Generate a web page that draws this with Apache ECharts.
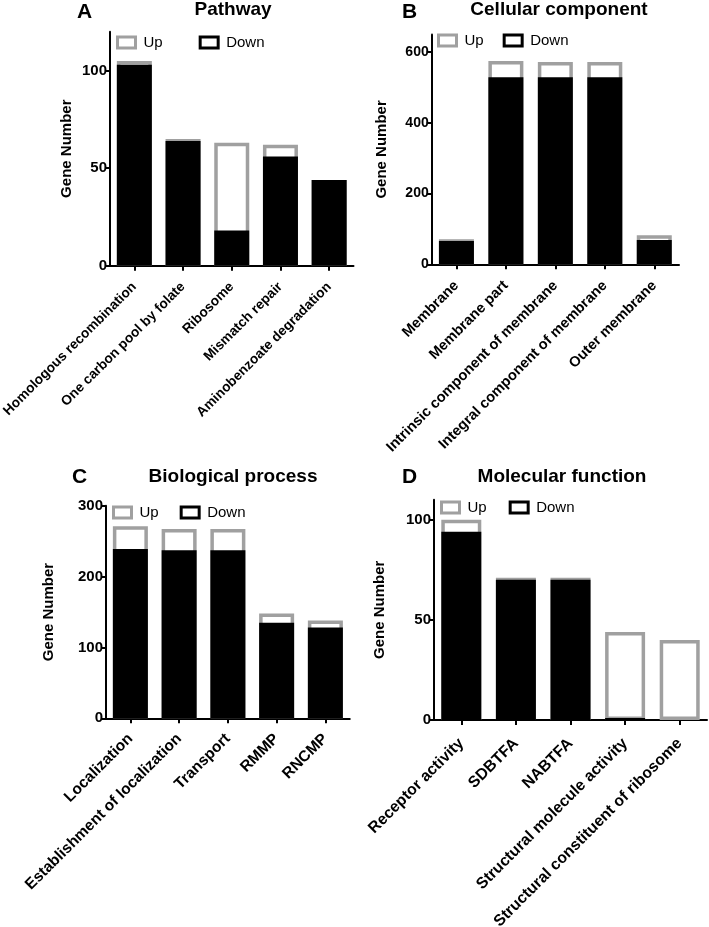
<!DOCTYPE html>
<html>
<head>
<meta charset="utf-8">
<script src="https://cdn.jsdelivr.net/npm/echarts@6/dist/echarts.min.js"></script>
<style>html,body{margin:0;padding:0;background:#fff;}#c{width:709px;height:927px;}</style>
</head>
<body>
<div id="c"></div>
<script>
// ---- Data ----
const pathwayCats = ['Homologous recombination', 'One carbon pool by folate', 'Ribosome', 'Mismatch repair', 'Aminobenzoate degradation'];
const pathwayDown = [103, 64, 18, 56, 44];
const pathwayUp = [2, 1, 45, 6, 0];
const pathwayTicks = [0, 50, 100];

const ccCats = ['Membrane', 'Membrane part', 'Intrinsic component of membrane', 'Integral component of membrane', 'Outer membrane'];
const ccDown = [66, 529, 529, 529, 69];
const ccUp = [5, 46, 43, 43, 13];
const ccTicks = [0, 200, 400, 600];

const bpCats = ['Localization', 'Establishment of localization', 'Transport', 'RMMP', 'RNCMP'];
const bpDown = [239, 237, 237, 135, 128];
const bpUp = [32, 30, 30, 13, 10];
const bpTicks = [0, 100, 200, 300];

const mfCats = ['Receptor activity', 'SDBTFA', 'NABTFA', 'Structural molecule activity', 'Structural constituent of ribosome'];
const mfDown = [94, 70, 70, 1, 0];
const mfUp = [6, 1, 1, 43, 40];
const mfTicks = [0, 50, 100];

const panelLetters = ['A', 'B', 'C', 'D'];
const panelTitles = ['Pathway', 'Cellular component', 'Biological process', 'Molecular function'];

// ---- Layout ----
const FONT = '"Liberation Sans", Arial, Helvetica, sans-serif';
const GREY = '#a0a0a0';
const panels = [
  {cats: pathwayCats, down: pathwayDown, up: pathwayUp, ticks: pathwayTicks, max: 120, interval: 50,
   grid: {left: 110, top: 31.7, width: 243.5, height: 234}, barW: 35, nameGap: 36, tickFont: 15,
   xFont: 13.7, xMargin: 19,
   letter: [77, 2], title: [233, 0], legend: {left: 116, top: 35, gap: 36}},
  {cats: ccCats, down: ccDown, up: ccUp, ticks: ccTicks, max: 650, interval: 200,
   grid: {left: 431.7, top: 34.5, width: 247.3, height: 229.8}, barW: 35, nameGap: 42, tickFont: 14,
   xFont: 14.6, xMargin: 19,
   letter: [402, 2], title: [559, 0], legend: {left: 437, top: 33, gap: 19}},
  {cats: bpCats, down: bpDown, up: bpUp, ticks: bpTicks, max: 300, interval: 100,
   grid: {left: 106, top: 505.7, width: 243.75, height: 212.6}, barW: 35, nameGap: 50, tickFont: 15,
   xFont: 15.5, xMargin: 18,
   letter: [72, 467], title: [233, 467], legend: {left: 112, top: 505, gap: 21}},
  {cats: mfCats, down: mfDown, up: mfUp, ticks: mfTicks, max: 110, interval: 50,
   grid: {left: 434, top: 499.7, width: 273, height: 220.3}, barW: 40, nameGap: 47, tickFont: 15,
   xFont: 15.8, xMargin: 21,
   letter: [402, 467], title: [562, 467], legend: {left: 440, top: 500, gap: 22}}
];

const option = {
  animation: false,
  backgroundColor: '#fff',
  textStyle: {fontFamily: FONT},
  title: [], legend: [], grid: [], xAxis: [], yAxis: [], series: []
};

panels.forEach((p, i) => {
  option.title.push({
    text: panelLetters[i], left: p.letter[0], top: p.letter[1], padding: 0,
    textStyle: {fontSize: 21, fontWeight: 'bold', color: '#000', fontFamily: FONT}
  });
  option.title.push({
    text: panelTitles[i], left: p.title[0], top: p.title[1], padding: 0, textAlign: 'center',
    textStyle: {fontSize: 19, fontWeight: 'bold', color: '#000', fontFamily: FONT}
  });
  option.legend.push({
    left: p.legend.left, top: p.legend.top, orient: 'horizontal', padding: 0,
    itemWidth: 18, itemHeight: 11, itemGap: p.legend.gap, selectedMode: false,
    textStyle: {fontSize: 15, color: '#000', fontFamily: FONT, padding: [0, 0, 0, 3]},
    data: [
      {name: 'Up', icon: 'rect', itemStyle: {color: '#fff', borderColor: GREY, borderWidth: 3}},
      {name: 'Down', icon: 'rect', itemStyle: {color: '#fff', borderColor: '#000', borderWidth: 3}}
    ]
  });
  option.grid.push(Object.assign({containLabel: false, outerBoundsMode: 'none'}, p.grid));
  option.xAxis.push({
    type: 'category', gridIndex: i, data: p.cats,
    axisLine: {show: true, lineStyle: {color: '#000', width: 2}},
    axisTick: {show: true, alignWithLabel: true, length: 5, lineStyle: {color: '#000', width: 2}},
    axisLabel: {interval: 0, rotate: 45, margin: p.xMargin, fontSize: p.xFont, fontWeight: 'bold', color: '#000', fontFamily: FONT},
    splitLine: {show: false}
  });
  option.yAxis.push({
    type: 'value', gridIndex: i, min: 0, max: p.max, interval: p.interval,
    name: 'Gene Number', nameLocation: 'middle', nameGap: p.nameGap, nameRotate: 90,
    nameTextStyle: {fontSize: 15, fontWeight: 'bold', color: '#000', fontFamily: FONT},
    axisLine: {show: true, lineStyle: {color: '#000', width: 2}},
    axisTick: {show: true, length: 5, lineStyle: {color: '#000', width: 2}, customValues: p.ticks},
    axisLabel: {fontSize: p.tickFont, fontWeight: 'bold', color: '#000', margin: 3, fontFamily: FONT, customValues: p.ticks},
    splitLine: {show: false}
  });
  // Up genes are drawn as the outlined part above the Down bar (total height = down + up)
  option.series.push({
    name: 'Up', type: 'bar', xAxisIndex: i, yAxisIndex: i, z: 2,
    barWidth: p.barW, barGap: '-100%',
    data: p.up.map((v, k) => v + p.down[k]),
    itemStyle: {color: '#fff', borderColor: GREY, borderWidth: 3.5}
  });
  option.series.push({
    name: 'Down', type: 'bar', xAxisIndex: i, yAxisIndex: i, z: 3,
    barWidth: p.barW, barGap: '-100%', data: p.down,
    itemStyle: {color: '#000', borderWidth: 0}
  });
});

const chart = echarts.init(document.getElementById('c'), null, {renderer: 'canvas'});
chart.setOption(option);
</script>
</body>
</html>
